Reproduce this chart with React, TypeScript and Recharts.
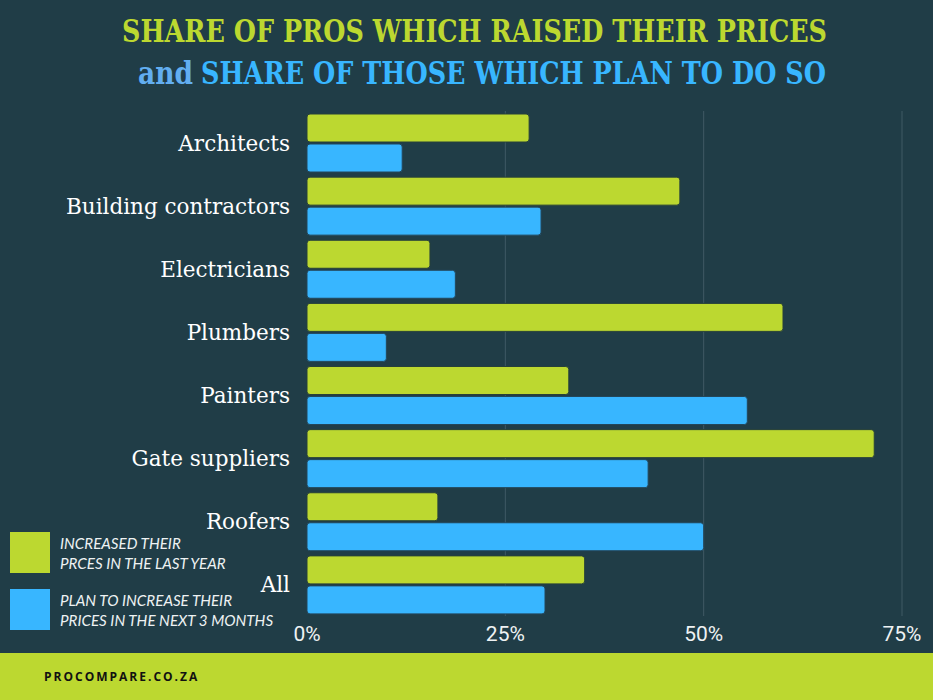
import { BarChart, Bar, XAxis, YAxis, CartesianGrid, Legend } from 'recharts'

const categories = ['Architects', 'Building contractors', 'Electricians', 'Plumbers', 'Painters', 'Gate suppliers', 'Roofers', 'All']
const raisedLastYear = [28, 47, 15.5, 60, 33, 71.5, 16.5, 35]
const planNext3Months = [12, 29.5, 18.7, 10, 55.5, 43, 50, 30]
const xTicks = [0, 25, 50, 75]
const xMax = 75

const BG = '#203d47'
const GREEN = '#bcd830'
const BLUE = '#38b6ff'

const data = categories.map((name, i) => ({
  name,
  raised: raisedLastYear[i],
  plan: planNext3Months[i],
}))

// grid lines only at 25/50/75, not at the zero edge
const gridX = ({ xAxis, offset }: any) => {
  const scale = xAxis && typeof xAxis.scale === 'function' ? xAxis.scale : null
  return xTicks.slice(1).map((t) => (scale ? scale(t) : offset.left + (t / xMax) * offset.width))
}

function CategoryTick({ x, y, payload }: any) {
  return (
    <text x={x} y={y} dy={8} textAnchor="end" fill="#ffffff" fontFamily="'DejaVu Serif', serif" fontSize={21.5}>
      {payload.value}
    </text>
  )
}

function PercentTick({ x, y, payload }: any) {
  return (
    <text x={x} y={y} dy={17} textAnchor="middle" fill="#eef2f3" fontFamily="Roboto, sans-serif" fontSize={21}>
      {payload.value}%
    </text>
  )
}

function LegendBox({ payload }: any) {
  const lines: Record<string, string[]> = {
    raised: ['INCREASED THEIR', 'PRCES IN THE LAST YEAR'],
    plan: ['PLAN TO INCREASE THEIR', 'PRICES IN THE NEXT 3 MONTHS'],
  }
  return (
    <div>
      {(payload || []).map((p: any) => (
        <div key={p.dataKey} style={{ display: 'flex', alignItems: 'center', height: 41, marginBottom: 16 }}>
          <div style={{ width: 40, height: 41, background: p.color, flexShrink: 0 }} />
          <div style={{ marginLeft: 10, fontFamily: 'Lato, sans-serif', fontStyle: 'italic', fontSize: 15.2, lineHeight: '20px', color: '#eef2f3', whiteSpace: 'nowrap' }}>
            {lines[p.dataKey].map((l) => <div key={l}>{l}</div>)}
          </div>
        </div>
      ))}
    </div>
  )
}

export default function App() {
  return (
    <div style={{ position: 'absolute', left: 0, top: 0, width: 933, height: 700, background: BG, overflow: 'hidden' }}>
      <svg width={933} height={100} style={{ position: 'absolute', left: 0, top: 0 }}>
        <text x={122} y={42} textLength={705} lengthAdjust="spacingAndGlyphs" fill={GREEN} fontFamily="'DejaVu Serif', serif" fontWeight="bold" fontSize={32}>
          SHARE OF PROS WHICH RAISED THEIR PRICES
        </text>
        <text x={138} y={84} textLength={55} lengthAdjust="spacingAndGlyphs" fill="#62aef0" fontFamily="'DejaVu Serif', serif" fontWeight="bold" fontSize={32}>
          and
        </text>
        <text x={201} y={84} textLength={625} lengthAdjust="spacingAndGlyphs" fill={BLUE} fontFamily="'DejaVu Serif', serif" fontWeight="bold" fontSize={32}>
          SHARE OF THOSE WHICH PLAN TO DO SO
        </text>
      </svg>
      <div style={{ position: 'absolute', left: 0, top: 0 }}>
        <BarChart
          width={933}
          height={653}
          layout="vertical"
          data={data}
          margin={{ top: 111, right: 31, bottom: 7, left: 0 }}
          barSize={28}
          barGap={2}
        >
          <CartesianGrid horizontal={false} stroke="#3f5a64" verticalCoordinatesGenerator={gridX} />
          <XAxis type="number" domain={[0, xMax]} ticks={xTicks} axisLine={false} tickLine={false} tick={<PercentTick />} height={30} interval={0} />
          <YAxis type="category" dataKey="name" width={307} axisLine={false} tickLine={false} tick={<CategoryTick />} tickMargin={11} interval={0} />
          <Legend
            layout="horizontal"
            verticalAlign="middle"
            align="center"
            content={<LegendBox />}
            wrapperStyle={{ position: 'absolute', left: 10, top: 532, width: 290 }}
          />
          <Bar dataKey="raised" name="Increased their prices in the last year" fill={GREEN} stroke="#27403a" strokeWidth={1} radius={3} isAnimationActive={false} />
          <Bar dataKey="plan" name="Plan to increase their prices in the next 3 months" fill={BLUE} stroke="#23465a" strokeWidth={1} radius={3} isAnimationActive={false} />
        </BarChart>
      </div>
      <div style={{ position: 'absolute', left: 0, top: 653, width: 933, height: 47, background: GREEN }}>
        <div style={{ position: 'absolute', left: 44, top: 15, fontFamily: "'Open Sans', sans-serif", fontWeight: 700, fontSize: 12, letterSpacing: 2, color: '#111' }}>
          PROCOMPARE.CO.ZA
        </div>
      </div>
    </div>
  )
}
